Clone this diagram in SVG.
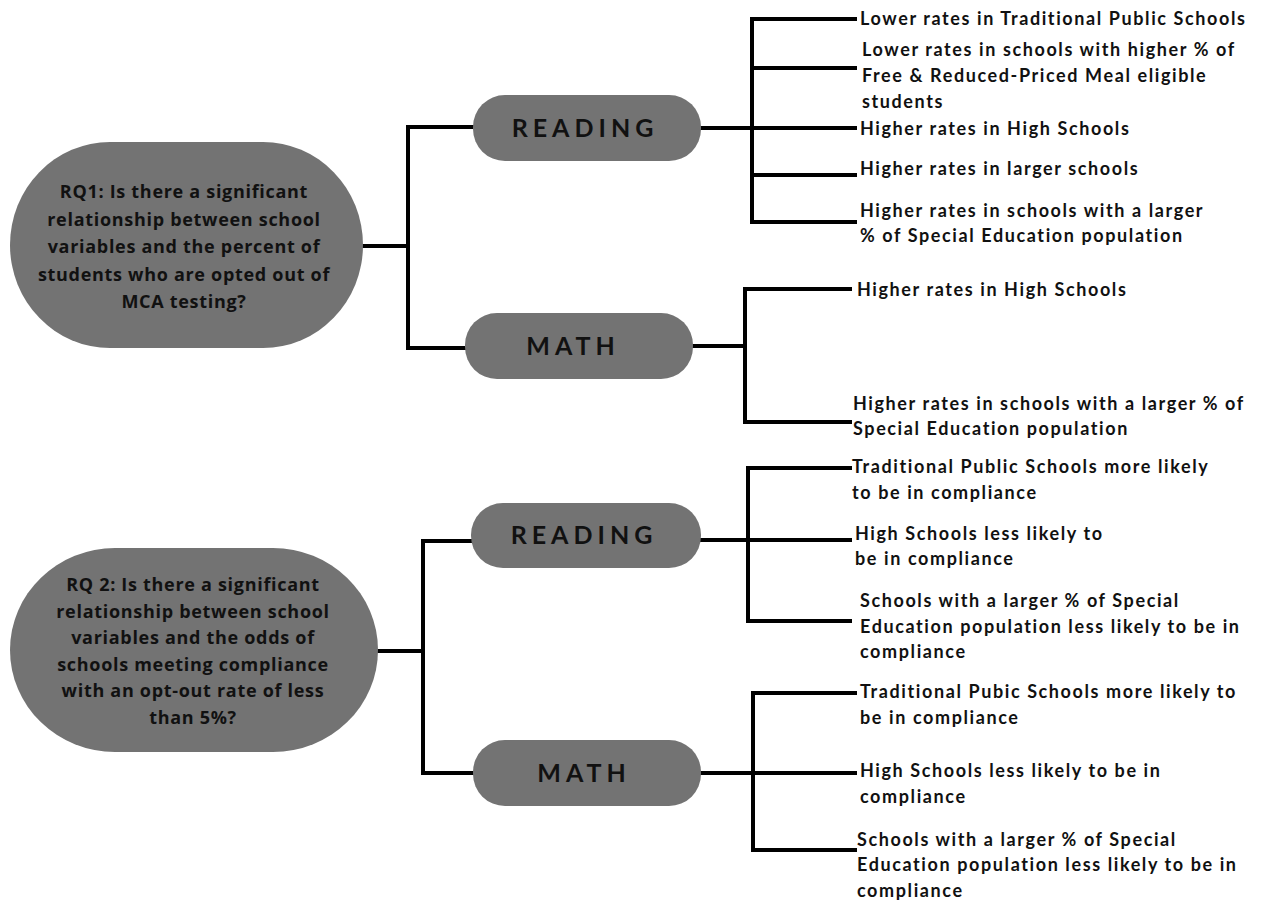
<svg xmlns="http://www.w3.org/2000/svg" width="1265" height="903" viewBox="0 0 1265 903">
<style>
.rq{fill:#737373;}
.pill{fill:#737373;}
.rqt{font-family:"Open Sans","DejaVu Sans",sans-serif;font-weight:700;font-size:18px;fill:#111;text-anchor:middle;letter-spacing:0.7px;}
.pt{font-family:Lato,"Liberation Sans",sans-serif;font-weight:700;font-size:25px;fill:#111;text-anchor:middle;letter-spacing:5px;}
.lt{font-family:Lato,"Liberation Sans",sans-serif;font-weight:700;font-size:18px;fill:#111;letter-spacing:1.6px;}
.ln{stroke:#000;stroke-width:4;fill:none;stroke-linecap:square;}
</style>
<rect width="1265" height="903" fill="#fff"/>
<g id="connectors">
<path class="ln" d="M363 246 H408 M408 127 V348 M408 127 H473 M408 348 H465"/>
<path class="ln" d="M701 128 H752 M752 19 V222 M752 19 H855 M752 68 H855 M752 128 H855 M752 175 H855 M752 222 H855"/>
<path class="ln" d="M693 346 H745 M745 289 V422 M745 289 H850 M745 422 H850"/>
<path class="ln" d="M378 651 H423 M423 541 V773 M423 541 H471 M423 773 H473"/>
<path class="ln" d="M701 540 H748 M748 468 V621 M748 468 H850 M748 540 H850 M748 621 H850"/>
<path class="ln" d="M701 773 H753 M753 693 V850 M753 693 H855 M753 773 H855 M753 850 H855"/>
</g>
<g id="rq1">
<rect class="rq" x="10" y="142" width="353" height="206" rx="100" ry="103"/>
<text class="rqt" x="184" y="198">RQ1: Is there a significant</text>
<text class="rqt" x="184" y="225.5">relationship between school</text>
<text class="rqt" x="184" y="253">variables and the percent of</text>
<text class="rqt" x="184" y="280.5">students who are opted out of</text>
<text class="rqt" x="184" y="308">MCA testing?</text>
</g>
<g id="rq2">
<rect class="rq" x="10" y="548" width="368" height="204" rx="105" ry="102"/>
<text class="rqt" x="193" y="591">RQ 2: Is there a significant</text>
<text class="rqt" x="193" y="617.5">relationship between school</text>
<text class="rqt" x="193" y="644">variables and the odds of</text>
<text class="rqt" x="193" y="670.5">schools meeting compliance</text>
<text class="rqt" x="193" y="697">with an opt-out rate of less</text>
<text class="rqt" x="193" y="723.5">than 5%?</text>
</g>
<g id="reading1">
<rect class="pill" x="473" y="95" width="228" height="66" rx="32"/>
<text class="pt" x="585" y="137">READING</text>
</g>
<g id="math1">
<rect class="pill" x="465" y="313" width="228" height="66" rx="32"/>
<text class="pt" x="573" y="355">MATH</text>
</g>
<g id="reading2">
<rect class="pill" x="471" y="503" width="230" height="65" rx="32"/>
<text class="pt" x="584" y="544">READING</text>
</g>
<g id="math2">
<rect class="pill" x="473" y="740" width="228" height="66" rx="32"/>
<text class="pt" x="584" y="782">MATH</text>
</g>
<g id="r1a"><text class="lt" x="860" y="25">Lower rates in Traditional Public Schools</text></g>
<g id="r1b"><text class="lt" x="862" y="56">Lower rates in schools with higher % of</text><text class="lt" x="862" y="82">Free &amp; Reduced-Priced Meal eligible</text><text class="lt" x="862" y="108">students</text></g>
<g id="r1c"><text class="lt" x="860" y="135">Higher rates in High Schools</text></g>
<g id="r1d"><text class="lt" x="860" y="175">Higher rates in larger schools</text></g>
<g id="r1e"><text class="lt" x="860" y="217">Higher rates in schools with a larger</text><text class="lt" x="860" y="242">% of Special Education population</text></g>
<g id="m1a"><text class="lt" x="857" y="296">Higher rates in High Schools</text></g>
<g id="m1b"><text class="lt" x="853" y="410">Higher rates in schools with a larger % of</text><text class="lt" x="853" y="435">Special Education population</text></g>
<g id="r2a"><text class="lt" x="852" y="473">Traditional Public Schools more likely</text><text class="lt" x="852" y="499">to be in compliance</text></g>
<g id="r2b"><text class="lt" x="855" y="540">High Schools less likely to</text><text class="lt" x="855" y="565">be in compliance</text></g>
<g id="r2c"><text class="lt" x="860" y="607">Schools with a larger % of Special</text><text class="lt" x="860" y="633">Education population less likely to be in</text><text class="lt" x="860" y="658">compliance</text></g>
<g id="m2a"><text class="lt" x="860" y="698">Traditional Pubic Schools more likely to</text><text class="lt" x="860" y="724">be in compliance</text></g>
<g id="m2b"><text class="lt" x="860" y="777">High Schools less likely to be in</text><text class="lt" x="860" y="803">compliance</text></g>
<g id="m2c"><text class="lt" x="857" y="846">Schools with a larger % of Special</text><text class="lt" x="857" y="871">Education population less likely to be in</text><text class="lt" x="857" y="897">compliance</text></g>
</svg>
